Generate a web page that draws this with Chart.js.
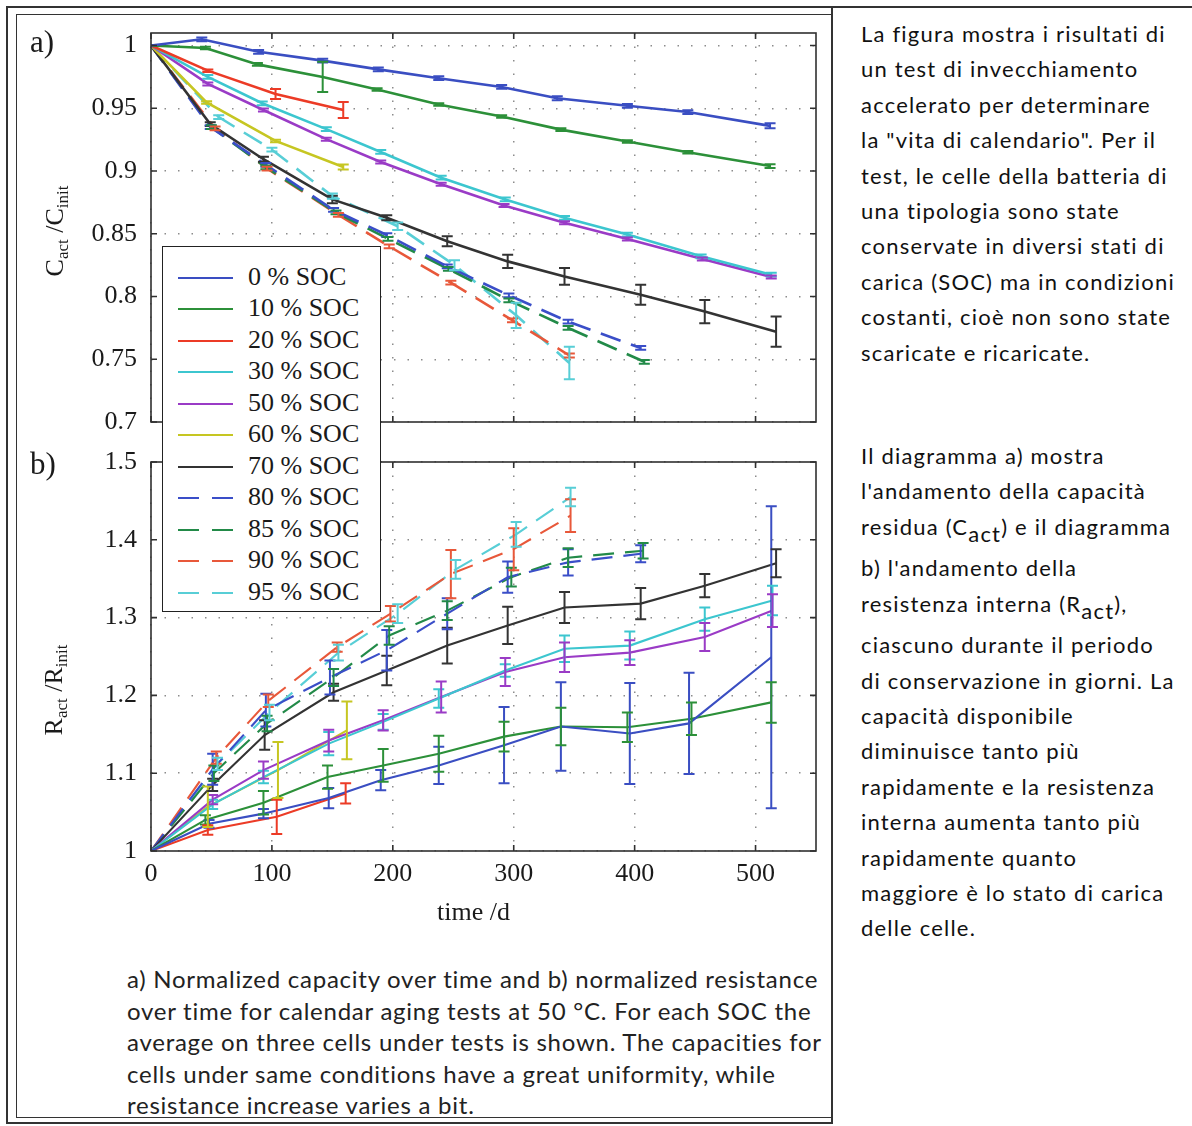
<!DOCTYPE html>
<html>
<head>
<meta charset="utf-8">
<script src="https://cdn.jsdelivr.net/npm/chart.js@4.4.0/dist/chart.umd.min.js"></script>
<style>
  body { margin: 0; width: 1192px; height: 1126px; overflow: hidden; position: relative; background: #fff; }
  .abs { position: absolute; }
  .hline { position: absolute; height: 0; border-top: 2px solid #333; }
  .vline { position: absolute; width: 0; border-left: 2px solid #333; }
  canvas { position: absolute; }
  .serif { font-family: 'Liberation Serif', 'Times New Roman', serif; color: #1a1a1a; }
  .panel { font-size: 31px; }
  .ylab { font-size: 26px; white-space: nowrap; transform: translate(-50%, -50%) rotate(-90deg); }
  .ylab sub { font-size: 17px; vertical-align: -5px; }
  #legend { left: 162px; top: 246px; width: 217px; height: 364px; border: 1.6px solid #222; background: #fff; z-index: 5; }
  .legrow { position: absolute; left: 0; height: 30px; width: 217px; }
  .legrow svg { position: absolute; left: 15px; top: 0; }
  .legrow span { position: absolute; left: 85px; top: -1px; font-size: 26px; line-height: 30px; white-space: nowrap; }
  .sans { font-family: 'Lato', 'Noto Sans', sans-serif; color: #111; font-variant-ligatures: none; }
  .rtext { left: 861px; font-size: 22px; letter-spacing: 1.2px; }
  .rtext div { height: 35.4px; line-height: 35.4px; white-space: nowrap; }
  .rtext div.tall { height: 41.5px; }
  .rtext sub { font-size: 22px; vertical-align: -7px; line-height: 0; }
  .caption { left: 127px; top: 963px; font-size: 24px; letter-spacing: 0.75px; color: #222; }
  .caption div { height: 31.6px; line-height: 31.6px; white-space: nowrap; }
</style>
</head>
<body>

<!-- table frame -->
<div class="hline" style="left:6px; top:6px; width:1186px;"></div>
<div class="vline" style="left:6px; top:6px; height:1118px;"></div>
<div class="vline" style="left:831px; top:6px; height:1118px;"></div>
<div class="hline" style="left:6px; top:1122px; width:827px;"></div>
<!-- picture frame -->
<div class="hline" style="left:16px; top:14px; width:815px; border-top-width:1.5px;"></div>
<div class="vline" style="left:16px; top:14px; height:1103px; border-left-width:1.5px;"></div>
<div class="hline" style="left:16px; top:1117px; width:815px; border-top-width:1.5px;"></div>

<canvas id="capChart" width="810" height="420" style="left:20px; top:18px;"></canvas>
<canvas id="resChart" width="810" height="500" style="left:20px; top:440px;"></canvas>

<div class="abs serif panel" style="left:30px; top:24px;">a)</div>
<div class="abs serif panel" style="left:30px; top:446px;">b)</div>
<div class="abs serif ylab" style="left:56px; top:231px;">C<sub>act</sub> /C<sub>init</sub></div>
<div class="abs serif ylab" style="left:55px; top:690px;">R<sub>act</sub> /R<sub>init</sub></div>
<div class="abs serif" style="left:437px; top:897px; font-size:26px; line-height:30px;">time /d</div>

<div id="legend" class="abs serif"></div>

<div class="abs sans rtext" style="top:16px;">
  <div>La figura mostra i risultati di</div>
  <div>un test di invecchiamento</div>
  <div>accelerato per determinare</div>
  <div>la "vita di calendario". Per il</div>
  <div>test, le celle della batteria di</div>
  <div>una tipologia sono state</div>
  <div>conservate in diversi stati di</div>
  <div>carica (SOC) ma in condizioni</div>
  <div>costanti, cioè non sono state</div>
  <div>scaricate e ricaricate.</div>
</div>
<div class="abs sans rtext" style="top:438px;">
  <div>Il diagramma a) mostra</div>
  <div>l'andamento della capacità</div>
  <div class="tall">residua (C<sub>act</sub>) e il diagramma</div>
  <div>b) l'andamento della</div>
  <div class="tall">resistenza interna (R<sub>act</sub>),</div>
  <div>ciascuno durante il periodo</div>
  <div>di conservazione in giorni. La</div>
  <div>capacità disponibile</div>
  <div>diminuisce tanto più</div>
  <div>rapidamente e la resistenza</div>
  <div>interna aumenta tanto più</div>
  <div>rapidamente quanto</div>
  <div>maggiore è lo stato di carica</div>
  <div>delle celle.</div>
</div>

<div class="abs sans caption">
  <div>a) Normalized capacity over time and b) normalized resistance</div>
  <div>over time for calendar aging tests at 50 °C. For each SOC the</div>
  <div>average on three cells under tests is shown. The capacities for</div>
  <div>cells under same conditions have a great uniformity, while</div>
  <div>resistance increase varies a bit.</div>
</div>

<script>
// series: 0, 10, 20, 30, 50, 60, 70, 80, 85, 90, 95 % SOC
var socLabels = ['0 % SOC', '10 % SOC', '20 % SOC', '30 % SOC', '50 % SOC', '60 % SOC',
                 '70 % SOC', '80 % SOC', '85 % SOC', '90 % SOC', '95 % SOC'];

// time axis (days) of the capacity measurements, one list per SOC
var capDays = [
  [0, 42, 89, 142, 188, 238, 290, 336, 394, 444, 512],
  [0, 45, 88, 142, 187, 238, 290, 339, 394, 444, 512],
  [0, 47, 103, 159],
  [0, 47, 92, 145, 190, 240, 293, 342, 394, 455, 513],
  [0, 47, 93, 145, 190, 240, 292, 342, 394, 456, 513],
  [0, 46, 103, 159],
  [0, 49, 93, 150, 195, 245, 295, 342, 405, 458, 517],
  [0, 49, 95, 151, 195, 245, 296, 345, 405],
  [0, 50, 95, 153, 196, 246, 296, 345, 408],
  [0, 53, 96, 155, 197, 248, 299, 346],
  [0, 56, 100, 150, 204, 251, 302, 346]
];
// C_act / C_init
var capValues = [
  [1, 1.005, 0.995, 0.988, 0.981, 0.974, 0.967, 0.958, 0.952, 0.947, 0.936],
  [1, 0.998, 0.985, 0.975, 0.965, 0.953, 0.9435, 0.933, 0.9235, 0.915, 0.904],
  [1, 0.980, 0.9614, 0.9486],
  [1, 0.975, 0.954, 0.9334, 0.9152, 0.8947, 0.8774, 0.8627, 0.8494, 0.832, 0.8174],
  [1, 0.9694, 0.9486, 0.9254, 0.9072, 0.8894, 0.8726, 0.8587, 0.8459, 0.8299, 0.8155],
  [1, 0.9547, 0.924, 0.9032],
  [1, 0.9374, 0.9094, 0.8774, 0.8627, 0.844, 0.828, 0.816, 0.8014, 0.788, 0.772],
  [1, 0.935, 0.905, 0.869, 0.849, 0.824, 0.801, 0.780, 0.759],
  [1, 0.935, 0.903, 0.867, 0.846, 0.822, 0.797, 0.775, 0.748],
  [1, 0.934, 0.902, 0.865, 0.840, 0.811, 0.781, 0.753],
  [1, 0.943, 0.917, 0.880, 0.856, 0.825, 0.785, 0.747]
];
var capErrors = [
  [0, 0.0015, 0.0015, 0.0015, 0.0015, 0.0015, 0.0015, 0.0015, 0.0015, 0.0015, 0.002],
  [0, 0.001, 0.001, 0.012, 0.001, 0.001, 0.001, 0.001, 0.001, 0.001, 0.0015],
  [0, 0.001, 0.004, 0.0064],
  [0, 0.0015, 0.0015, 0.0015, 0.0015, 0.0015, 0.0015, 0.0015, 0.0015, 0.0015, 0.0015],
  [0, 0.0012, 0.0012, 0.0012, 0.0012, 0.0012, 0.0012, 0.0012, 0.0012, 0.0012, 0.0012],
  [0, 0.001, 0.001, 0.002],
  [0, 0.0015, 0.002, 0.003, 0.002, 0.004, 0.0053, 0.0067, 0.008, 0.0093, 0.012],
  [0, 0.0015, 0.0015, 0.0015, 0.0015, 0.0015, 0.0015, 0.0015, 0.0015],
  [0, 0.0015, 0.0015, 0.0015, 0.0015, 0.0015, 0.0015, 0.0015, 0.0015],
  [0, 0.0015, 0.0015, 0.0015, 0.0015, 0.0015, 0.0015, 0.0015],
  [0, 0.0015, 0.0015, 0.002, 0.003, 0.004, 0.010, 0.013]
];

// time axis (days) of the resistance measurements
var resDays = [
  [0, 48, 93, 147, 190, 238, 292, 339, 396, 445, 513],
  [0, 45, 93, 146, 192, 238, 292, 339, 394, 447, 513],
  [0, 47, 104, 161],
  [0, 51, 93, 147, 192, 238, 293, 342, 396, 458, 514],
  [0, 51, 93, 147, 192, 240, 293, 342, 396, 458, 514],
  [0, 47, 105, 162],
  [0, 51, 94, 151, 195, 245, 295, 342, 405, 458, 517],
  [0, 51, 95, 148, 195, 245, 295, 345, 405],
  [0, 52, 96, 151, 197, 245, 298, 345, 407],
  [0, 54, 97, 154, 198, 248, 300, 347],
  [0, 55, 98, 155, 204, 252, 302, 347]
];
// R_act / R_init
var resValues = [
  [1, 1.035, 1.048, 1.068, 1.091, 1.110, 1.136, 1.160, 1.151, 1.164, 1.249],
  [1, 1.040, 1.062, 1.095, 1.110, 1.125, 1.147, 1.160, 1.159, 1.170, 1.191],
  [1, 1.027, 1.044, 1.074],
  [1, 1.060, 1.095, 1.138, 1.166, 1.196, 1.232, 1.260, 1.264, 1.298, 1.322],
  [1, 1.066, 1.104, 1.142, 1.168, 1.198, 1.230, 1.249, 1.255, 1.275, 1.309],
  [1, 1.057, 1.104, 1.155],
  [1, 1.085, 1.149, 1.204, 1.232, 1.264, 1.290, 1.313, 1.318, 1.341, 1.370],
  [1, 1.105, 1.181, 1.223, 1.258, 1.305, 1.352, 1.371, 1.382],
  [1, 1.100, 1.164, 1.223, 1.277, 1.309, 1.352, 1.377, 1.386],
  [1, 1.120, 1.193, 1.262, 1.305, 1.356, 1.388, 1.431],
  [1, 1.112, 1.178, 1.255, 1.305, 1.362, 1.407, 1.455]
];
var resErrors = [
  [0, 0.005, 0.006, 0.013, 0.013, 0.024, 0.049, 0.057, 0.065, 0.065, 0.194],
  [0, 0.006, 0.015, 0.015, 0.021, 0.023, 0.019, 0.024, 0.019, 0.021, 0.026],
  [0, 0.006, 0.022, 0.013],
  [0, 0.006, 0.008, 0.015, 0.010, 0.012, 0.008, 0.017, 0.018, 0.015, 0.019],
  [0, 0.006, 0.011, 0.014, 0.013, 0.020, 0.018, 0.019, 0.016, 0.018, 0.021],
  [0, 0.026, 0.036, 0.037],
  [0, 0.008, 0.019, 0.011, 0.019, 0.023, 0.024, 0.020, 0.020, 0.015, 0.018],
  [0, 0.020, 0.021, 0.022, 0.026, 0.020, 0.020, 0.017, 0.011],
  [0, 0.010, 0.010, 0.011, 0.012, 0.012, 0.012, 0.012, 0.010],
  [0, 0.008, 0.008, 0.006, 0.010, 0.031, 0.027, 0.021],
  [0, 0.008, 0.010, 0.010, 0.012, 0.012, 0.016, 0.012]
];

var timeTicks = [0, 100, 200, 300, 400, 500];
var capTicks = [0.7, 0.75, 0.8, 0.85, 0.9, 0.95, 1];
var resTicks = [1, 1.1, 1.2, 1.3, 1.4, 1.5];

// styling
var socColors = ['#3a4ec2', '#2c9039', '#ec3b26', '#3cc6cf', '#9a3bc6', '#c6c622',
                 '#333333', '#3a4ec8', '#228a48', '#e8583a', '#58ced6'];
var socDashed = [false, false, false, false, false, false, false, true, true, true, true];
var SERIF = "'Liberation Serif', 'Times New Roman', serif";

// error bars drawn from the y scale
var errorBarPlugin = {
  id: 'errorBars',
  afterDatasetsDraw: function (chart) {
    var ctx = chart.ctx;
    var yScale = chart.scales.y;
    chart.data.datasets.forEach(function (ds, i) {
      var meta = chart.getDatasetMeta(i);
      ctx.save();
      ctx.strokeStyle = ds.borderColor;
      ctx.lineWidth = 2;
      ctx.setLineDash([]);
      ctx.beginPath();
      meta.data.forEach(function (pt, j) {
        var e = ds.errors[j];
        if (!e) return;
        var v = ds.data[j].y;
        var top = yScale.getPixelForValue(v + e);
        var bot = yScale.getPixelForValue(v - e);
        ctx.moveTo(pt.x, top); ctx.lineTo(pt.x, bot);
        ctx.moveTo(pt.x - 5.5, top); ctx.lineTo(pt.x + 5.5, top);
        ctx.moveTo(pt.x - 5.5, bot); ctx.lineTo(pt.x + 5.5, bot);
      });
      ctx.stroke();
      ctx.restore();
    });
  }
};

// matlab style box with inward ticks on all sides
var boxPlugin = {
  id: 'matlabBox',
  afterDraw: function (chart) {
    var ctx = chart.ctx, a = chart.chartArea, sx = chart.scales.x, sy = chart.scales.y;
    ctx.save();
    ctx.strokeStyle = '#303030';
    ctx.lineWidth = 1.6;
    ctx.setLineDash([]);
    ctx.strokeRect(a.left, a.top, a.right - a.left, a.bottom - a.top);
    ctx.beginPath();
    sx.ticks.forEach(function (t) {
      var px = sx.getPixelForValue(t.value);
      ctx.moveTo(px, a.bottom); ctx.lineTo(px, a.bottom - 6);
      ctx.moveTo(px, a.top); ctx.lineTo(px, a.top + 6);
    });
    sy.ticks.forEach(function (t) {
      var py = sy.getPixelForValue(t.value);
      ctx.moveTo(a.left, py); ctx.lineTo(a.left + 6, py);
      ctx.moveTo(a.right, py); ctx.lineTo(a.right - 6, py);
    });
    ctx.stroke();
    ctx.restore();
  }
};

function buildDatasets(days, values, errors, width) {
  return socLabels.map(function (label, i) {
    return {
      label: label,
      data: days[i].map(function (d, j) { return { x: d, y: values[i][j] }; }),
      errors: errors[i],
      borderColor: socColors[i],
      borderWidth: width,
      borderDash: socDashed[i] ? [21, 11] : [],
      pointRadius: 0,
      tension: 0,
      fill: false
    };
  });
}

function makeChart(canvasId, datasets, yMin, yMax, yTicks, withTimeLabels, topPad) {
  var ctx = document.getElementById(canvasId).getContext('2d');
  return new Chart(ctx, {
    type: 'line',
    data: { datasets: datasets },
    options: {
      responsive: false,
      animation: false,
      layout: { padding: { top: topPad, right: 14, bottom: withTimeLabels ? 0 : 16, left: 0 } },
      plugins: { legend: { display: false }, tooltip: { enabled: false } },
      scales: {
        x: {
          type: 'linear', min: 0, max: 550,
          afterBuildTicks: function (s) { s.ticks = timeTicks.map(function (v) { return { value: v }; }); },
          afterFit: function (s) {
            s.height = withTimeLabels ? 89 : 0;
            s.paddingLeft = 0; s.paddingRight = 0;
          },
          ticks: {
            display: withTimeLabels, padding: 8, color: '#1a1a1a', maxRotation: 0,
            font: { family: SERIF, size: 26 },
            callback: function (v) { return String(v); }
          },
          grid: { drawTicks: false, color: '#8c8c8c', lineWidth: 1.5, borderDash: [1.5, 12] },
          border: { display: false, dash: [1.5, 12] }
        },
        y: {
          type: 'linear', min: yMin, max: yMax,
          afterBuildTicks: function (s) { s.ticks = yTicks.map(function (v) { return { value: v }; }); },
          afterFit: function (s) {
            s.width = 131;
            s.paddingTop = 0; s.paddingBottom = 0;
          },
          ticks: {
            padding: 14, color: '#1a1a1a',
            font: { family: SERIF, size: 26 },
            callback: function (v) { return String(Math.round(v * 100) / 100); }
          },
          grid: { drawTicks: false, color: '#8c8c8c', lineWidth: 1.5, borderDash: [1.5, 12] },
          border: { display: false, dash: [1.5, 12] }
        }
      }
    },
    plugins: [errorBarPlugin, boxPlugin]
  });
}

makeChart('capChart', buildDatasets(capDays, capValues, capErrors, 2.6), 0.7, 1.01, capTicks, false, 15);
makeChart('resChart', buildDatasets(resDays, resValues, resErrors, 2.1), 1, 1.5, resTicks, true, 22);

// legend shared by both panels
var legend = document.getElementById('legend');
socLabels.forEach(function (label, i) {
  var row = document.createElement('div');
  row.className = 'legrow';
  row.style.top = (15.5 + 31.5 * i) + 'px';
  var dash = socDashed[i] ? ' stroke-dasharray="21 13"' : '';
  row.innerHTML = '<svg width="56" height="30"><line x1="0" y1="15" x2="55" y2="15" stroke="' +
    socColors[i] + '" stroke-width="1.9"' + dash + '/></svg><span>' + label + '</span>';
  legend.appendChild(row);
});
</script>
</body>
</html>
